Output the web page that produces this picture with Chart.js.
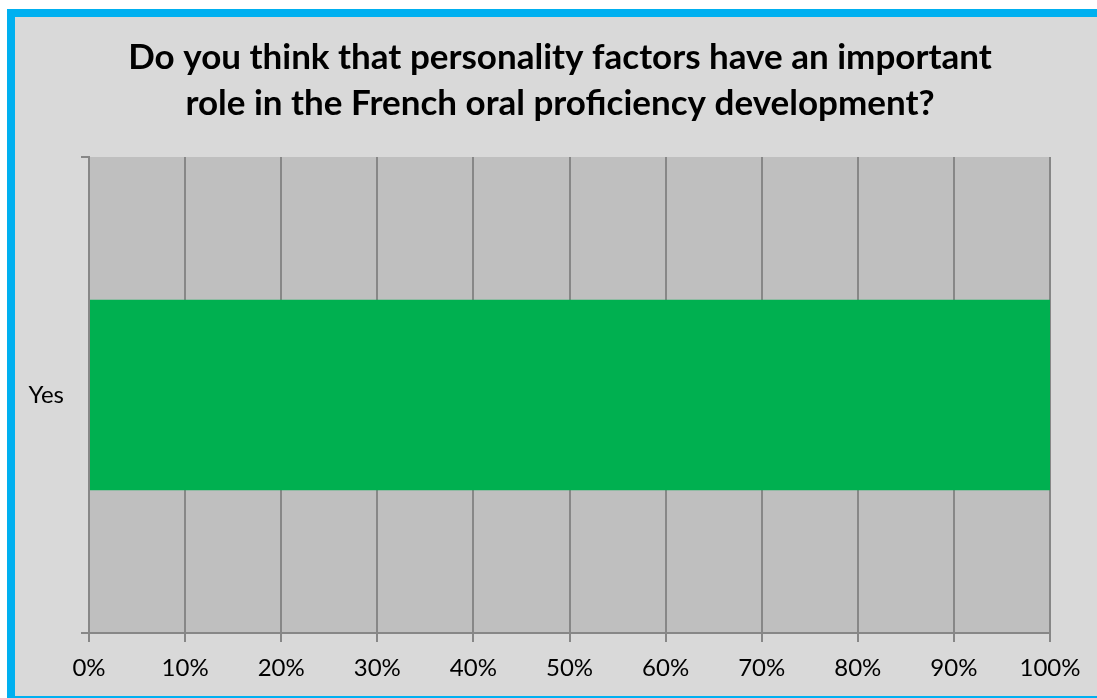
<!DOCTYPE html>
<html>
<head>
<meta charset="utf-8">
<script src="https://cdn.jsdelivr.net/npm/chart.js@4/dist/chart.umd.min.js"></script>
<style>
    html, body { margin: 0; padding: 0; background: #ffffff; overflow: hidden; }
    #frame {
        position: absolute;
        left: 7px;
        top: 9px;
        width: 1090px;
        height: 679px;
        background: #d9d9d9;
        border-top: 8px solid #00b0f0;
        border-left: 8px solid #00b0f0;
        border-bottom: 2px solid #00b0f0;
    }
    canvas { display: block; }
</style>
</head>
<body>
<div id="frame">
    <canvas id="survey-chart" width="1090" height="679"></canvas>
</div>
<script>
// Survey answer and share of respondents (%)
const answers = ['Yes'];
const shares = [100];
const xTicks = [0, 10, 20, 30, 40, 50, 60, 70, 80, 90, 100];
const titleLines = [
    'Do you think that personality factors have an important',
    'role in the French oral proficiency development?'
];

const FONT = "Lato, 'Liberation Sans', sans-serif";

// Fill the plot area grey before anything else is drawn
const plotBackground = {
    id: 'plotBackground',
    beforeDraw(chart) {
        const { ctx, chartArea } = chart;
        ctx.save();
        ctx.fillStyle = '#bfbfbf';
        ctx.fillRect(chartArea.left, chartArea.top, chartArea.right - chartArea.left, chartArea.bottom - chartArea.top);
        ctx.restore();
    }
};

const ctx = document.getElementById('survey-chart').getContext('2d');
new Chart(ctx, {
    type: 'bar',
    data: {
        labels: answers,
        datasets: [{
            data: shares,
            backgroundColor: '#00b050',
            borderWidth: 0,
            barPercentage: 0.4,
            categoryPercentage: 1.0
        }]
    },
    options: {
        indexAxis: 'y',
        responsive: false,
        animation: false,
        layout: { padding: 0 },
        plugins: {
            legend: { display: false },
            tooltip: { enabled: false },
            title: {
                display: true,
                text: titleLines,
                color: '#000000',
                font: { family: FONT, size: 35, weight: 'bold', lineHeight: 1.3 },
                padding: { top: 18, bottom: 31 }
            }
        },
        scales: {
            x: {
                type: 'linear',
                min: 0,
                max: 100,
                afterBuildTicks(scale) {
                    scale.ticks = xTicks.map(v => ({ value: v }));
                },
                afterFit(scale) { scale.height = 63; },
                ticks: {
                    color: '#000000',
                    font: { family: FONT, size: 24 },
                    padding: 12,
                    maxRotation: 0,
                    callback: v => v + '%'
                },
                grid: {
                    color: '#878787',
                    lineWidth: 2,
                    tickLength: 9,
                    drawOnChartArea: true
                },
                border: { color: '#878787', width: 2 }
            },
            y: {
                type: 'category',
                offset: true,
                afterFit(scale) { scale.width = 74; },
                ticks: {
                    color: '#000000',
                    font: { family: FONT, size: 24 },
                    padding: 17
                },
                grid: {
                    offset: true,
                    color: '#878787',
                    lineWidth: 2,
                    tickLength: 8,
                    drawOnChartArea: false
                },
                border: { color: '#878787', width: 2 }
            },
            // empty strip on the right so the title stays centred on the whole frame
            yRight: {
                type: 'category',
                position: 'right',
                afterFit(scale) { scale.width = 55; },
                ticks: { display: false },
                grid: { display: false },
                border: { display: false }
            }
        }
    },
    plugins: [plotBackground]
});
</script>
</body>
</html>
